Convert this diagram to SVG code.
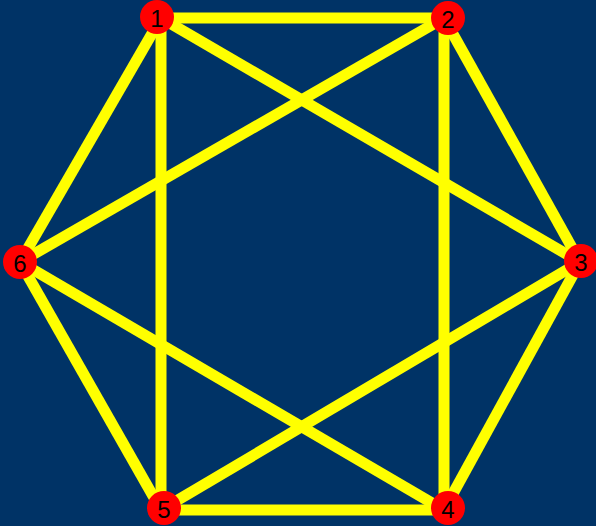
<svg xmlns="http://www.w3.org/2000/svg" width="596" height="526" viewBox="0 0 596 526">
<style>
.e{stroke:#ffff00;stroke-width:11;fill:none}
.n circle{fill:#ff0000}
.n text{font-family:"Liberation Sans",Arial,sans-serif;font-size:24px;fill:#000;text-anchor:middle;dominant-baseline:central}
</style>
<rect width="596" height="526" fill="#003366"/>
<g id="edges">
<line class="e" x1="161" y1="18" x2="444" y2="18"/>
<line class="e" x1="161" y1="18" x2="161" y2="510"/>
<line class="e" x1="161" y1="18" x2="20" y2="262"/>
<line class="e" x1="161" y1="18" x2="580" y2="262"/>
<line class="e" x1="444" y1="18" x2="20" y2="262"/>
<line class="e" x1="444" y1="18" x2="580" y2="262"/>
<line class="e" x1="444" y1="18" x2="444" y2="510"/>
<line class="e" x1="580" y1="262" x2="161" y2="510"/>
<line class="e" x1="580" y1="262" x2="444" y2="510"/>
<line class="e" x1="444" y1="510" x2="161" y2="510"/>
<line class="e" x1="444" y1="510" x2="20" y2="262"/>
<line class="e" x1="161" y1="510" x2="20" y2="262"/>
</g>
<g id="n1" class="n"><circle cx="157" cy="17" r="17"/><text x="157" y="18">1</text></g>
<g id="n2" class="n"><circle cx="448" cy="18" r="17"/><text x="448" y="19">2</text></g>
<g id="n3" class="n"><circle cx="581" cy="261" r="17"/><text x="581" y="262">3</text></g>
<g id="n4" class="n"><circle cx="448" cy="508" r="17"/><text x="448" y="509">4</text></g>
<g id="n5" class="n"><circle cx="164" cy="508" r="17"/><text x="164" y="509">5</text></g>
<g id="n6" class="n"><circle cx="20" cy="262" r="17"/><text x="20" y="263">6</text></g>
</svg>
